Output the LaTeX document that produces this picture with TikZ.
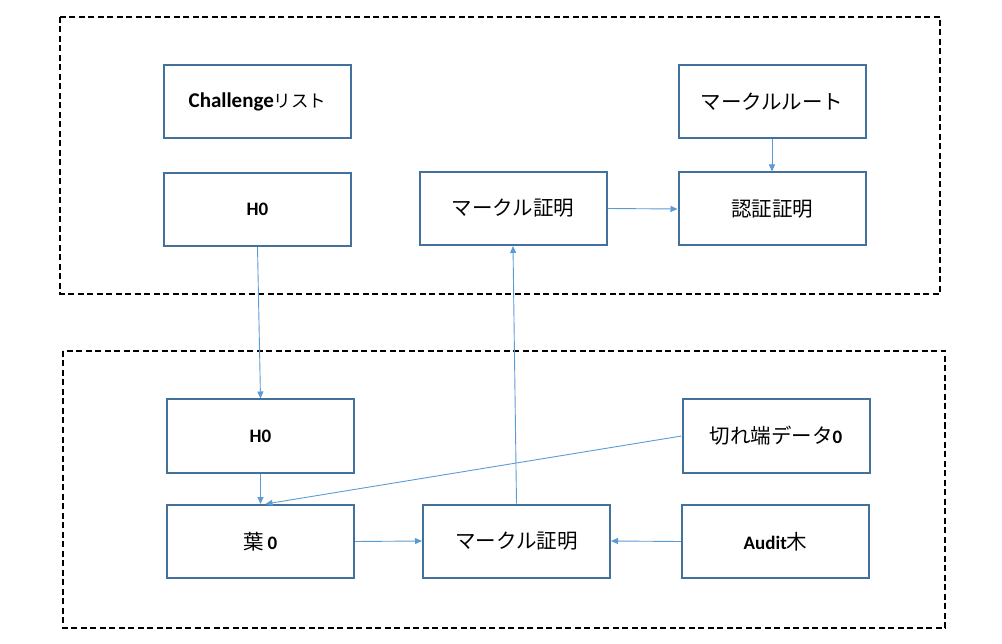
\documentclass[tikz,border=0pt]{standalone}
\usepackage{fontspec}
\setmainfont{Carlito}
\newfontfamily\jp{Noto Sans CJK JP}
\usetikzlibrary{arrows.meta}
\definecolor{boxc}{HTML}{41719C}
\definecolor{arrc}{HTML}{5B9BD5}
\tikzset{
  box/.style={draw=boxc, line width=2pt, minimum width=187pt, minimum height=73pt, inner sep=0pt, font=\fontsize{19}{22}\selectfont\bfseries},
  frame/.style={draw=black, line width=1.4pt, dash pattern=on 6pt off 3.5pt},
  conn/.style={draw=arrc, line width=0.9pt, -{Triangle[length=7pt,width=6pt]}},
}
\newcommand{\J}[1]{{\jp\mdseries\fontsize{20.5}{24}\selectfont #1}}
\begin{document}
\begin{tikzpicture}[x=1pt,y=-1pt]
\useasboundingbox (0,0) rectangle (1002,644);
\draw[frame] (60,17) rectangle (940,294);
\draw[frame] (63,351) rectangle (945,628);
% top group
\node[box] (chl) at (257.5,101.5) {{\fontsize{21}{24}\selectfont Challenge}{\jp\mdseries\fontsize{17.5}{20}\selectfont リスト}};
\node[box] (h0t) at (257.5,209.5) {H0};
\node[box] (mkt) at (513,208.5) {\J{マークル証明}};
\node[box] (root) at (772,102) {\J{マークルルート}};
\node[box] (auth) at (772,209) {\J{認証証明}};
% bottom group
\node[box] (h0b) at (260.5,436) {H0};
\node[box] (leaf) at (260.5,541.5) {\J{葉}\,0};
\node[box] (mkb) at (516.5,541) {\J{マークル証明}};
\node[box] (kire) at (776,436) {\J{切れ端データ}0};
\node[box] (audit) at (775.5,541.5) {Audit\J{木}};
% connectors
\draw[conn] (h0t.south) -- (h0b.north);
\draw[conn] (mkb.north) -- (mkt.south);
\draw[conn] (mkt.east) -- (auth.west);
\draw[conn] (root.south) -- (auth.north);
\draw[conn] (h0b.south) -- (leaf.north);
\draw[conn] (kire.west) -- ([xshift=5pt]leaf.north);
\draw[conn] (leaf.east) -- (mkb.west);
\draw[conn] (audit.west) -- (mkb.east);
\end{tikzpicture}
\end{document}
